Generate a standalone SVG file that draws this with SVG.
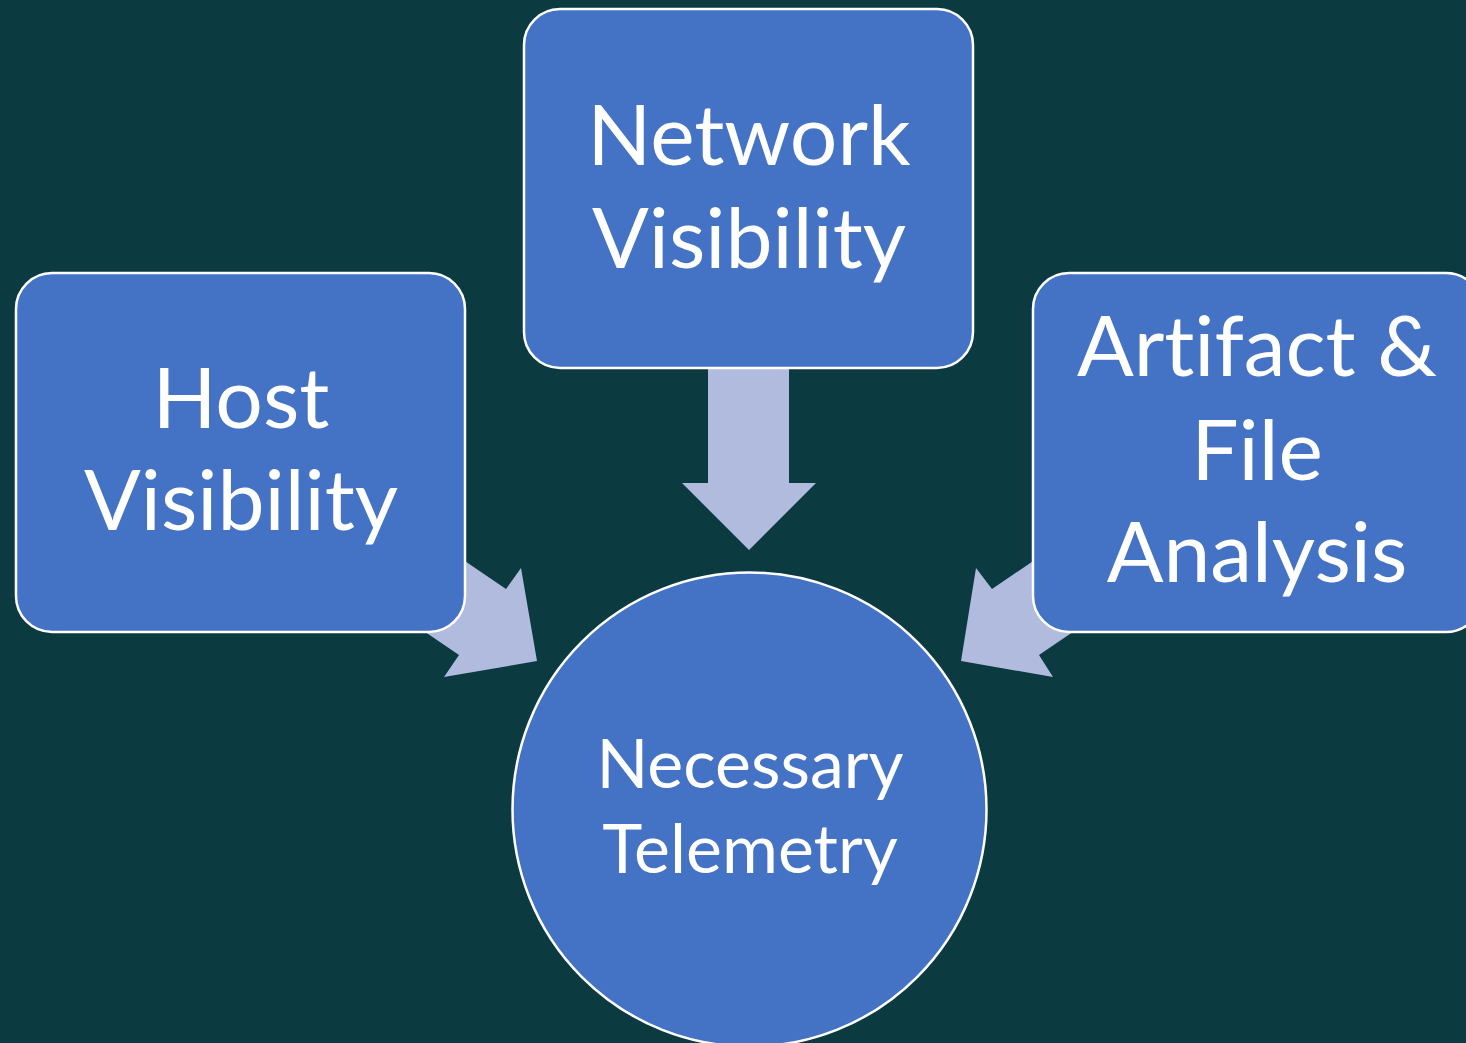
<svg xmlns="http://www.w3.org/2000/svg" width="1466" height="1043" viewBox="0 0 1466 1043">
<style>
.bg{fill:#0B3A40}
.box{fill:#4472C4;stroke:#FFFFFF;stroke-width:2.5}
.arrow{fill:#B0BBDE}
.lbl{fill:#FFFFFF;font-family:Lato,"Open Sans","Liberation Sans",sans-serif;text-anchor:middle;font-variant-ligatures:none;font-feature-settings:"liga" 0,"clig" 0}
.big{font-size:84px}
.mid{font-size:68px}
</style>
<rect class="bg" x="0" y="0" width="1466" height="1043"/>
<g id="connectors">
<polygon class="arrow" points="708,369 789,369 789,483 816,483 749,550 682,483 708,483"/>
<polygon class="arrow" points="406,521 506,589 521,568 537,661 444,677 459,655 359,587"/>
<polygon class="arrow" points="1092,521 992,589 976,568 961,661 1053,677 1039,655 1139,587"/>
</g>
<g id="node-host">
<rect class="box" x="16" y="273" width="449" height="359" rx="36" ry="36"/>
<text class="lbl big" x="241" y="428">Host</text>
<text class="lbl big" x="241" y="530">Visibility</text>
</g>
<g id="node-network">
<rect class="box" x="524" y="9" width="449" height="359" rx="36" ry="36"/>
<text class="lbl big" x="749" y="165">Network</text>
<text class="lbl big" x="749" y="268">Visibility</text>
</g>
<g id="node-artifact">
<rect class="box" x="1033" y="273" width="449" height="359" rx="36" ry="36"/>
<text class="lbl big" x="1257" y="376">Artifact &amp;</text>
<text class="lbl big" x="1257" y="480">File</text>
<text class="lbl big" x="1257" y="582">Analysis</text>
</g>
<g id="node-telemetry">
<circle class="box" cx="749.5" cy="809.5" r="237"/>
<text class="lbl mid" x="750" y="788">Necessary</text>
<text class="lbl mid" x="750" y="873">Telemetry</text>
</g>
</svg>
